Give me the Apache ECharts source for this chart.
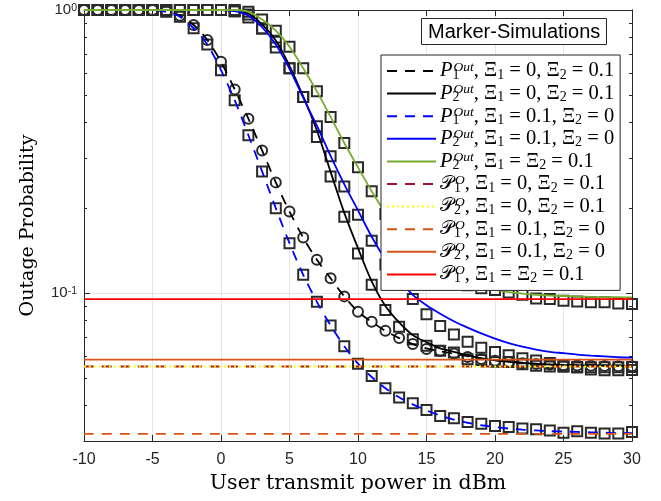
<!DOCTYPE html>
<html>
<head>
<meta charset="utf-8">
<script src="https://cdn.jsdelivr.net/npm/echarts@6/dist/echarts.min.js"></script>
<style>
html, body { margin: 0; padding: 0; background: #fff; }
#chart { width: 661px; height: 501px; }
</style>
</head>
<body>
<div id="chart"></div>
<script>
// x axis: user transmit power (dBm)
const powerDbm = [-10,-9,-8,-7,-6,-5,-4,-3,-2,-1,0,1,2,3,4,5,6,7,8,9,10,
                  11,12,13,14,15,16,17,18,19,20,21,22,23,24,25,26,27,28,29,30];

// analytic curves
const p1OutA = [1,1,1,1,1,1,0.99,0.955,0.885,0.783,0.656,0.524,0.413,0.319,0.246,0.194,0.157,0.131,0.1127,0.0973,0.0859,
                0.0791,0.0735,0.0693,0.066,0.0637,0.0622,0.061,0.0598,0.0588,0.058,0.0573,0.0567,0.0563,0.0559,0.0557,0.0555,0.0554,0.0553,0.0552,0.0551];
const p2OutA = [1,1,1,1,1,1,1,1,1,1,1,0.995,0.97,0.89,0.78,0.635,0.495,0.375,0.268,0.192,0.144,
                0.11,0.09,0.0787,0.071,0.067,0.0637,0.062,0.0602,0.0588,0.0578,0.0571,0.0566,0.0562,0.0559,0.0557,0.0556,0.0555,0.0554,0.0553,0.0553];
const p1OutB = [1,1,1,1,1,1,0.985,0.947,0.862,0.756,0.613,0.48,0.361,0.269,0.1995,0.15,0.116,0.0931,0.0768,0.0649,0.0563,
                0.0505,0.0461,0.0428,0.0404,0.0385,0.0369,0.0357,0.0348,0.0341,0.0336,0.0332,0.0329,0.0327,0.0325,0.0324,0.0323,0.0322,0.0321,0.032,0.032];
const p2OutB = [1,1,1,1,1,1,1,1,1,1,1,0.99,0.955,0.87,0.755,0.62,0.49,0.39,0.305,0.242,0.196,
                0.158,0.131,0.112,0.0985,0.0905,0.0845,0.0795,0.0755,0.072,0.069,0.0665,0.0646,0.0631,0.062,0.0613,0.0606,0.0601,0.0597,0.0593,0.0591];
const p2OutC = [1,1,1,1,1,1,1,1,1,1,1,1,0.985,0.925,0.845,0.741,0.623,0.516,0.419,0.339,0.278,
                0.229,0.192,0.165,0.146,0.132,0.122,0.1145,0.109,0.105,0.1025,0.1008,0.0995,0.0986,0.098,0.0976,0.0972,0.0969,0.0967,0.0966,0.0965];

// asymptotic floors
const floorP1A = 0.055;
const floorP2A = 0.055;
const floorP1B = 0.0318;
const floorP2B = 0.0582;
const floorP1C = 0.0952;

// simulation markers
const simP1A = [1,1,1,1,1,1,0.99,0.955,0.885,0.783,0.656,0.524,0.413,0.319,0.246,0.194,0.157,0.131,0.1127,0.0973,0.0859,
                0.0791,0.0735,0.0693,0.066,0.0634,0.0625,0.0611,0.0594,0.0585,0.0576,0.057,0.0565,0.0561,0.0558,0.0556,0.0554,0.0553,0.0552,0.0551,0.0551];
const simP2A = [1,1,1,1,1,1,1,1,1,1,1,0.99,0.965,0.861,0.772,0.622,0.493,0.356,0.258,0.186,0.138,
                0.107,0.0871,0.076,0.0687,0.0651,0.0625,0.0616,0.0583,0.058,0.0572,0.057,0.056,0.0553,0.055,0.0549,0.0548,0.0547,0.0547,0.0547,0.0548];
const simP1B = [1,1,1,1,1,1,0.985,0.947,0.862,0.756,0.613,0.48,0.361,0.269,0.1995,0.15,0.116,0.0931,0.0768,0.0649,0.0563,
                0.0509,0.0461,0.0427,0.0408,0.0386,0.0368,0.0361,0.035,0.0345,0.0339,0.0336,0.0332,0.033,0.0327,0.0321,0.0325,0.0321,0.0319,0.0319,0.0323];
const simP2B = [1,1,1,1,1,1,1,1,1,1,1,0.99,0.94,0.861,0.737,0.622,0.493,0.388,0.304,0.238,0.189,
                0.153,0.126,0.108,0.0952,0.0842,0.0764,0.0714,0.0672,0.064,0.0619,0.0603,0.0588,0.0578,0.0566,0.0555,0.0545,0.0537,0.0533,0.0533,0.0535];
const simP2C = [1,1,1,1,1,1,1,1,1,1,1,1,0.985,0.925,0.845,0.741,0.623,0.516,0.419,0.339,0.278,
                0.229,0.19,0.163,0.143,0.128,0.118,0.111,0.1065,0.104,0.1025,0.1005,0.0986,0.0957,0.0952,0.0939,0.0934,0.0927,0.0927,0.0919,0.0914];

const yMajorTicks = [0.1, 1];
const yMinorTicks = [0.03,0.04,0.05,0.06,0.07,0.08,0.09,0.2,0.3,0.4,0.5,0.6,0.7,0.8,0.9];

const legendLabels = {
    'a1': '{p|P}{sb|1}{sp|Out}{t|, Ξ}{s|1}{t| = 0, Ξ}{s|2}{t| = 0.1}',
    'a2': '{p|P}{sb|2}{sp|Out}{t|, Ξ}{s|1}{t| = 0, Ξ}{s|2}{t| = 0.1}',
    'b1': '{p|P}{sb|1}{sp|Out}{t|, Ξ}{s|1}{t| = 0.1, Ξ}{s|2}{t| = 0}',
    'b2': '{p|P}{sb|2}{sp|Out}{t|, Ξ}{s|1}{t| = 0.1, Ξ}{s|2}{t| = 0}',
    'c2': '{p|P}{sb|2}{sp|Out}{t|, Ξ}{s|1}{t| = Ξ}{s|2}{t| = 0.1}',
    'fa1': '{q|𝒫}{sb|1}{sp|O}{t|, Ξ}{s|1}{t| = 0, Ξ}{s|2}{t| = 0.1}',
    'fa2': '{q|𝒫}{sb|2}{sp|O}{t|, Ξ}{s|1}{t| = 0, Ξ}{s|2}{t| = 0.1}',
    'fb1': '{q|𝒫}{sb|1}{sp|O}{t|, Ξ}{s|1}{t| = 0.1, Ξ}{s|2}{t| = 0}',
    'fb2': '{q|𝒫}{sb|2}{sp|O}{t|, Ξ}{s|1}{t| = 0.1, Ξ}{s|2}{t| = 0}',
    'fc1': '{q|𝒫}{sb|1}{sp|O}{t|, Ξ}{s|1}{t| = Ξ}{s|2}{t| = 0.1}'
};

const pairs = (ys) => powerDbm.map((x, i) => [x, ys[i]]);
const flat = (v) => [[powerDbm[0], v], [powerDbm[powerDbm.length - 1], v]];

function lineSeries(name, data, color, type, width) {
    return {
        name: name, type: 'line', data: data, symbol: 'none', smooth: 0.3,
        lineStyle: { color: color, width: width || 1.8, type: type || 'solid' },
        itemStyle: { color: color },
        z: 3
    };
}
function simSeries(data, symbol) {
    return {
        type: 'scatter', data: data, symbol: symbol, symbolSize: 10,
        itemStyle: { color: 'rgba(0,0,0,0)', borderColor: '#2a2a2a', borderWidth: 2, opacity: 1 },
        z: 2, silent: true
    };
}
function yAxisDef(pos, ticks, len, withLabels) {
    return {
        type: 'log', logBase: 10, min: 0.03, max: 1, position: pos,
        axisLine: { show: true, onZero: false, lineStyle: { color: '#262626', width: 1 } },
        axisTick: { show: true, inside: true, length: len, customValues: ticks, lineStyle: { color: '#262626' } },
        axisLabel: withLabels ? {
            show: true, customValues: ticks, margin: 7, color: '#262626',
            fontFamily: 'Liberation Sans', fontSize: 15,
            formatter: (v) => '10{sup|' + Math.round(Math.log10(v)) + '}',
            rich: { sup: { fontSize: 10.5, verticalAlign: 'top', lineHeight: 10, padding: [0, 0, 8, 0], color: '#262626', fontFamily: 'Liberation Sans' } }
        } : { show: false },
        splitLine: withLabels ? { show: true, lineStyle: { color: '#e5e5e5', width: 1 } } : { show: false },
        name: withLabels ? 'Outage Probability' : '',
        nameLocation: 'middle', nameGap: 46,
        nameTextStyle: { fontFamily: 'DejaVu Serif', fontSize: 19, color: '#000' }
    };
}
function xAxisDef(pos, withLabels) {
    return {
        type: 'value', min: -10, max: 30, interval: 5, position: pos,
        axisLine: { show: true, onZero: false, lineStyle: { color: '#262626', width: 1 } },
        axisTick: { show: true, inside: true, length: 6, lineStyle: { color: '#262626' } },
        axisLabel: withLabels ? { show: true, margin: 11, color: '#262626', fontFamily: 'Liberation Sans', fontSize: 16 } : { show: false },
        splitLine: withLabels ? { show: true, lineStyle: { color: '#e5e5e5', width: 1 } } : { show: false },
        name: withLabels ? 'User transmit power in dBm' : '',
        nameLocation: 'middle', nameGap: 32,
        nameTextStyle: { fontFamily: 'DejaVu Serif', fontSize: 20.5, color: '#000' }
    };
}

const chart = echarts.init(document.getElementById('chart'));
const option = {
    animation: false,
    backgroundColor: '#fff',
    grid: { left: 84, right: 29, top: 10, bottom: 60 },
    title: {
        text: 'Marker-Simulations', left: 421, top: 18,
        padding: [4, 6, 3, 7],
        borderColor: '#262626', borderWidth: 1, backgroundColor: '#fff',
        textStyle: { fontFamily: 'Liberation Sans', fontSize: 20, fontWeight: 'normal', color: '#000', lineHeight: 20 }
    },
    legend: {
        orient: 'vertical', left: 381, top: 55,
        data: ['a1', 'a2', 'b1', 'b2', 'c2', 'fa1', 'fa2', 'fb1', 'fb2', 'fc1'],
        itemWidth: 49, itemHeight: 12, itemGap: 0.6,
        padding: [5, 6, 5, 5],
        backgroundColor: '#fff', borderColor: '#262626', borderWidth: 1, borderRadius: 0,
        selectedMode: false,
        itemStyle: { opacity: 0 },
        formatter: (name) => legendLabels[name],
        textStyle: {
            color: '#000', padding: [0, 0, 0, -1],
            rich: {
                t: { fontFamily: 'Liberation Serif', fontSize: 20.5, lineHeight: 22, color: '#000' },
                p: { fontFamily: 'Liberation Serif', fontStyle: 'italic', fontSize: 20.5, lineHeight: 22, color: '#000' },
                q: { fontFamily: 'DejaVu Serif', fontSize: 18.5, lineHeight: 22, color: '#000' },
                s: { fontFamily: 'Liberation Serif', fontSize: 14, lineHeight: 12, verticalAlign: 'bottom', color: '#000' },
                sb: { fontFamily: 'Liberation Serif', fontSize: 14, lineHeight: 12, verticalAlign: 'bottom', width: 1, color: '#000' },
                sp: { fontFamily: 'Liberation Serif', fontStyle: 'italic', fontSize: 13.5, lineHeight: 12, verticalAlign: 'top', color: '#000' }
            }
        }
    },
    xAxis: [xAxisDef('bottom', true), xAxisDef('top', false)],
    yAxis: [
        yAxisDef('left', yMajorTicks, 6, true),
        yAxisDef('left', yMinorTicks, 3, false),
        yAxisDef('right', yMajorTicks, 6, false),
        yAxisDef('right', yMinorTicks, 3, false)
    ],
    series: [
        simSeries(pairs(simP1A), 'circle'),
        simSeries(pairs(simP2A), 'rect'),
        simSeries(pairs(simP1B), 'rect'),
        simSeries(pairs(simP2B), 'rect'),
        simSeries(pairs(simP2C), 'rect'),
        lineSeries('a1', pairs(p1OutA), '#000000', [10, 8]),
        lineSeries('a2', pairs(p2OutA), '#000000'),
        lineSeries('b1', pairs(p1OutB), '#0000ff', [10, 8]),
        lineSeries('b2', pairs(p2OutB), '#0000ff'),
        lineSeries('c2', pairs(p2OutC), '#77ac30'),
        lineSeries('fa1', flat(floorP1A), '#a2142f', [10, 8]),
        lineSeries('fa2', flat(floorP2A), '#ffff00', [2, 3], 2.2),
        lineSeries('fb1', flat(floorP1B), '#d95319', [10, 8]),
        lineSeries('fb2', flat(floorP2B), '#d95319'),
        lineSeries('fc1', flat(floorP1C), '#ff0000')
    ]
};
chart.setOption(option);
</script>
</body>
</html>
